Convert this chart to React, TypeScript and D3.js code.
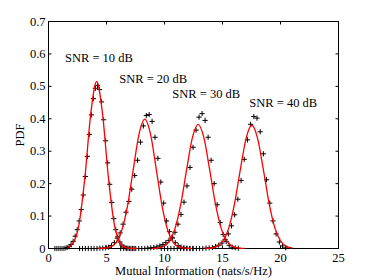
import React, { useEffect, useRef } from "react";
import * as d3 from "d3";

// axis ticks
const xTicks = [0, 5, 10, 15, 20, 25];
const yTicks = [0, 0.1, 0.2, 0.3, 0.4, 0.5, 0.6, 0.7];

const snrLabels = ["SNR = 10 dB", "SNR = 20 dB", "SNR = 30 dB", "SNR = 40 dB"];
// label anchors in data units (x, pdf)
const labelX = [1.42, 6.1, 10.67, 17.31];
const labelY = [0.574, 0.511, 0.463, 0.435];

// simulated histograms: first bin centre, bin width, pdf per bin
const histStart = [0.55, 2.68, 6.22, 9.725];
const histStep = [0.175, 0.25, 0.26, 0.275];
const hist10 = [
  0, 0, 0, 0, 0, 0.001, 0.003, 0.006, 0.012, 0.022, 0.038, 0.058, 0.085, 0.12,
  0.165, 0.222, 0.284, 0.352, 0.412, 0.462, 0.494, 0.503, 0.49, 0.452, 0.397,
  0.332, 0.264, 0.198, 0.142, 0.092, 0.058, 0.036, 0.02, 0.01, 0.005, 0.002,
  0.001, 0, 0, 0,
];
const hist20 = [
  0, 0, 0, 0, 0, 0, 0, 0.001, 0.001, 0.002, 0.004, 0.009, 0.018, 0.032, 0.048,
  0.075, 0.112, 0.145, 0.183, 0.225, 0.272, 0.328, 0.378, 0.41, 0.413, 0.392,
  0.343, 0.278, 0.205, 0.14, 0.085, 0.052, 0.032, 0.018, 0.009, 0.004, 0.002,
  0.001, 0, 0,
];
const hist30 = [
  0, 0, 0, 0, 0, 0, 0, 0, 0, 0.001, 0.002, 0.003, 0.005, 0.008, 0.012, 0.018,
  0.025, 0.035, 0.05, 0.075, 0.105, 0.143, 0.193, 0.25, 0.312, 0.365, 0.405,
  0.416, 0.395, 0.343, 0.272, 0.2, 0.135, 0.08, 0.043, 0.022, 0.01, 0.004,
  0.002, 0.001,
];
const hist40 = [
  0, 0, 0, 0, 0, 0, 0, 0, 0, 0, 0, 0, 0, 0, 0.001, 0.002, 0.003, 0.006, 0.01,
  0.017, 0.028, 0.045, 0.07, 0.104, 0.152, 0.21, 0.275, 0.335, 0.383, 0.407,
  0.402, 0.36, 0.292, 0.212, 0.14, 0.085, 0.045, 0.02, 0.008, 0.002,
];

// analytical approximation (red), sampled every 0.5 nats/s/Hz
const fitStart = [1.65, 4.3, 8.9, 13.53];
const fitStep = 0.5;
const fit10 = [
  0.0028, 0.018, 0.079, 0.224, 0.418, 0.515, 0.418, 0.224, 0.079, 0.018, 0.0028,
  0.0003, 0,
];
const fit20 = [
  0.0001, 0.0009, 0.0044, 0.0175, 0.054, 0.1295, 0.242, 0.352, 0.399, 0.352,
  0.242, 0.1295, 0.054, 0.0175, 0.0044, 0.0009, 0.0001,
];
const fit30 = [
  0.0002, 0.0014, 0.0061, 0.0215, 0.0606, 0.1358, 0.2416, 0.341, 0.383, 0.341,
  0.2416, 0.1358, 0.0606, 0.0215, 0.0061, 0.0014, 0.0002,
];
const fit40 = [
  0.0002, 0.0015, 0.0064, 0.0223, 0.062, 0.137, 0.2415, 0.339, 0.38, 0.339,
  0.2415, 0.137, 0.062, 0.0223, 0.0064, 0.0015,
];

const FONT = "'Liberation Serif', 'Times New Roman', serif";

const App = () => {
  const ref = useRef<SVGSVGElement | null>(null);

  useEffect(() => {
    if (!ref.current) return;
    const svg = d3.select(ref.current);
    svg.selectAll("*").remove();

    const width = 374;
    const height = 280;
    const left = 48.5;
    const right = 338.5;
    const top = 21.5;
    const bottom = 248.5;

    const x = d3.scaleLinear().domain([0, 25]).range([left, right]);
    const y = d3.scaleLinear().domain([0, 0.7]).range([bottom, top]);

    svg.append("rect").attr("width", width).attr("height", height).attr("fill", "#fff");

    // axes box
    svg
      .append("rect")
      .attr("x", left)
      .attr("y", top)
      .attr("width", right - left)
      .attr("height", bottom - top)
      .attr("fill", "none")
      .attr("stroke", "#000")
      .attr("stroke-width", 1);

    const tickLen = 3;
    const g = svg.append("g").attr("stroke", "#000").attr("stroke-width", 1);
    xTicks.forEach((t) => {
      g.append("line").attr("x1", x(t)).attr("x2", x(t)).attr("y1", bottom).attr("y2", bottom - tickLen);
      g.append("line").attr("x1", x(t)).attr("x2", x(t)).attr("y1", top).attr("y2", top + tickLen);
    });
    yTicks.forEach((t) => {
      g.append("line").attr("x1", left).attr("x2", left + tickLen).attr("y1", y(t)).attr("y2", y(t));
      g.append("line").attr("x1", right).attr("x2", right - tickLen).attr("y1", y(t)).attr("y2", y(t));
    });

    // tick labels
    svg
      .selectAll(".xt")
      .data(xTicks)
      .enter()
      .append("text")
      .attr("x", (d) => x(d))
      .attr("y", bottom + 13.5)
      .attr("text-anchor", "middle")
      .attr("font-family", FONT)
      .attr("font-size", 12.5)
      .text((d) => String(d));
    svg
      .selectAll(".yt")
      .data(yTicks)
      .enter()
      .append("text")
      .attr("x", left - 3)
      .attr("y", (d) => y(d))
      .attr("dy", "0.33em")
      .attr("text-anchor", "end")
      .attr("font-family", FONT)
      .attr("font-size", 12.5)
      .text((d) => (d === 0 ? "0" : d.toFixed(1)));

    // axis titles
    svg
      .append("text")
      .attr("x", (left + right) / 2)
      .attr("y", 274.5)
      .attr("text-anchor", "middle")
      .attr("font-family", FONT)
      .attr("font-size", 12.5)
      .text("Mutual Information (nats/s/Hz)");
    svg
      .append("text")
      .attr("transform", `translate(24, ${(top + bottom) / 2}) rotate(-90)`)
      .attr("text-anchor", "middle")
      .attr("font-family", FONT)
      .attr("font-size", 12.5)
      .text("PDF");

    // simulation markers (+)
    const hists = [hist10, hist20, hist30, hist40];
    const ms = 2.6;
    hists.forEach((h, k) => {
      const path = h
        .map((v, i) => {
          const px = x(histStart[k] + histStep[k] * i);
          const py = y(v);
          return `M${px - ms},${py}h${2 * ms}M${px},${py - ms}v${2 * ms}`;
        })
        .join("");
      svg.append("path").attr("d", path).attr("fill", "none").attr("stroke", "#000").attr("stroke-width", 1);
    });

    // analytical curves
    const fits = [fit10, fit20, fit30, fit40];
    const line = d3
      .line<number>()
      .x((_, i) => 0)
      .y((d) => y(d))
      .curve(d3.curveMonotoneX);
    fits.forEach((f, k) => {
      line.x((_, i) => x(fitStart[k] + fitStep * i));
      svg
        .append("path")
        .attr("d", line(f))
        .attr("fill", "none")
        .attr("stroke", "#ff0000")
        .attr("stroke-width", 1.3);
    });

    // SNR annotations
    snrLabels.forEach((s, k) => {
      svg
        .append("text")
        .attr("x", x(labelX[k]))
        .attr("y", y(labelY[k]))
        .attr("font-family", FONT)
        .attr("font-size", 12.5)
        .text(s);
    });
  }, []);

  return (
    <svg
      ref={ref}
      width={374}
      height={280}
      style={{ position: "absolute", left: 0, top: 0 }}
    />
  );
};

export default App;
